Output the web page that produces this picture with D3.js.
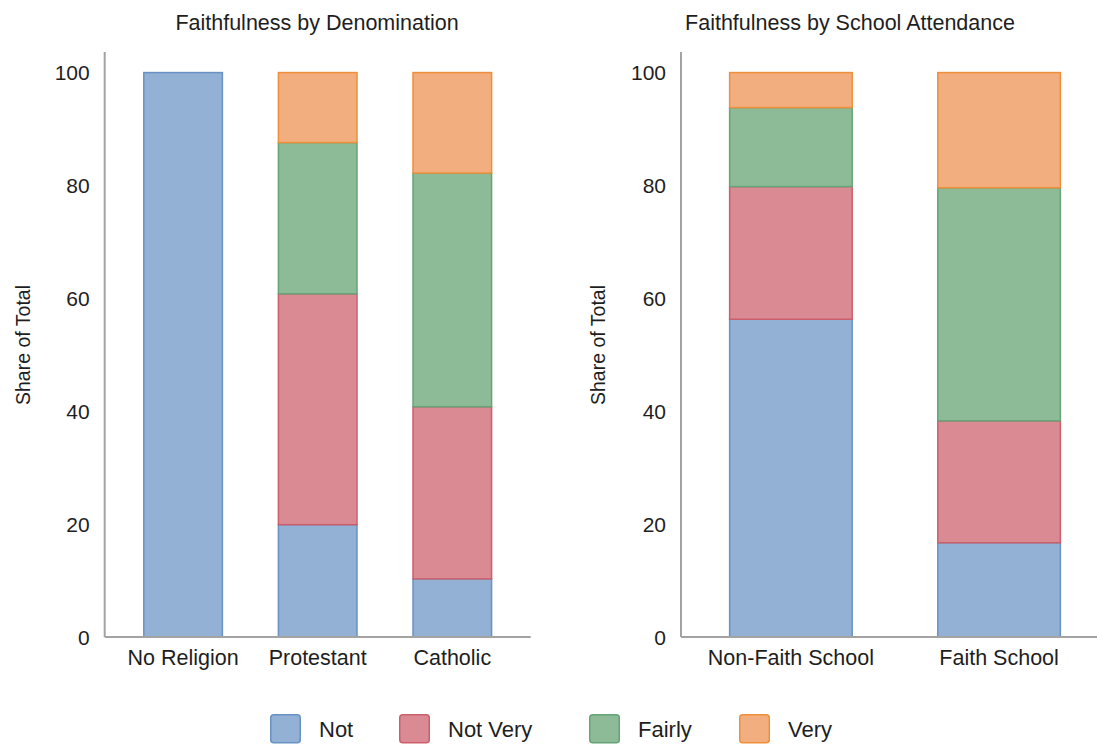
<!DOCTYPE html>
<html>
<head>
<meta charset="utf-8">
<script src="https://cdn.jsdelivr.net/npm/d3@7"></script>
<style>
  body { margin: 0; background: #fff; }
  text { font-family: "Liberation Sans", Arial, sans-serif; fill: #1e1e1e; }
</style>
</head>
<body>
<script>
const width = 1097;
const height = 744;

//DATA - share of total (%) for each faithfulness level
const levels = ["Not", "Not Very", "Fairly", "Very"];

const denomCats = ["No Religion", "Protestant", "Catholic"];
const denomNot = [100, 19.9, 10.3];
const denomNotVery = [0, 40.9, 30.5];
const denomFairly = [0, 26.8, 41.4];
const denomVery = [0, 12.4, 17.8];

const schoolCats = ["Non-Faith School", "Faith School"];
const schoolNot = [56.3, 16.7];
const schoolNotVery = [23.5, 21.6];
const schoolFairly = [14.0, 41.3];
const schoolVery = [6.2, 20.4];

const yTicks = [0, 20, 40, 60, 80, 100];

//COLORS: fill / stroke per level
const fills = ["#92b1d5", "#d98a93", "#8dbb97", "#f2ae7e"];
const strokes = ["#6892c3", "#cd5f6c", "#65a476", "#ef8f3b"];

const svg = d3.select("body").append("svg")
    .attr("width", width)
    .attr("height", height);

const y = d3.scaleLinear().domain([0, 104]).range([637, 50]);

function drawPanel(opts) {
    const rows = opts.cats.map((c, i) => {
        const r = {cat: c};
        levels.forEach((l, j) => r[l] = opts.series[j][i]);
        return r;
    });
    const stack = d3.stack().keys(levels)(rows);

    const x = d3.scaleBand()
        .domain(opts.cats)
        .range(opts.range)
        .paddingInner(opts.padInner)
        .paddingOuter(opts.padOuter);

    const g = svg.append("g");

    //bars
    stack.forEach((layer, j) => {
        g.append("g").selectAll("rect")
            .data(layer.filter(d => d[1] - d[0] > 0))
            .join("rect")
            .attr("x", d => x(d.data.cat) + 0.75)
            .attr("width", x.bandwidth() - 1.5)
            .attr("y", d => y(d[1]))
            .attr("height", d => y(d[0]) - y(d[1]))
            .attr("fill", fills[j])
            .attr("stroke", strokes[j])
            .attr("stroke-width", 1.5);
    });

    //axis lines
    g.append("line")
        .attr("x1", opts.range[0]).attr("x2", opts.range[0])
        .attr("y1", y.range()[1] + 2).attr("y2", y(0))
        .attr("stroke", "#a3a3a3").attr("stroke-width", 2);
    g.append("line")
        .attr("x1", opts.range[0]).attr("x2", opts.axisEnd)
        .attr("y1", y(0)).attr("y2", y(0))
        .attr("stroke", "#a3a3a3").attr("stroke-width", 2);

    //y tick labels
    g.selectAll(".ytick")
        .data(yTicks)
        .join("text")
        .attr("class", "ytick")
        .attr("x", opts.range[0] - 15)
        .attr("y", d => y(d))
        .attr("dy", "0.36em")
        .attr("text-anchor", "end")
        .style("font-size", "21px")
        .text(d => d);

    //x category labels
    g.selectAll(".xtick")
        .data(opts.cats)
        .join("text")
        .attr("class", "xtick")
        .attr("x", d => x(d) + x.bandwidth() / 2)
        .attr("y", 665)
        .attr("text-anchor", "middle")
        .style("font-size", "21.5px")
        .text(d => d);

    //y axis title
    g.append("text")
        .attr("transform", `translate(${opts.labelX},345) rotate(-90)`)
        .attr("text-anchor", "middle")
        .attr("dy", "0.35em")
        .style("font-size", "19.5px")
        .text("Share of Total");

    //panel title
    g.append("text")
        .attr("x", opts.titleX)
        .attr("y", 30)
        .attr("text-anchor", "middle")
        .style("font-size", "21.5px")
        .text(opts.title);
}

drawPanel({
    cats: denomCats,
    series: [denomNot, denomNotVery, denomFairly, denomVery],
    range: [104.7, 530.7],
    padInner: 0.405,
    padOuter: 0.285,
    axisEnd: 530.7,
    labelX: 23,
    titleX: 317,
    title: "Faithfulness by Denomination"
});

drawPanel({
    cats: schoolCats,
    series: [schoolNot, schoolNotVery, schoolFairly, schoolVery],
    range: [681, 1109],
    padInner: 0.404,
    padOuter: 0.23,
    axisEnd: 1097,
    labelX: 598,
    titleX: 850,
    title: "Faithfulness by School Attendance"
});

//Legend - item start positions along the bottom
const legendX = [270, 399, 589, 739];
const legend = svg.append("g").attr("class", "legend");
levels.forEach((l, j) => {
    legend.append("rect")
        .attr("x", legendX[j] + 0.75).attr("y", 714.75)
        .attr("width", 29.5).attr("height", 28)
        .attr("rx", 3)
        .attr("fill", fills[j])
        .attr("stroke", strokes[j])
        .attr("stroke-width", 1.5);
    legend.append("text")
        .attr("x", legendX[j] + 49)
        .attr("y", 737)
        .style("font-size", "22px")
        .text(l);
});
</script>
</body>
</html>
